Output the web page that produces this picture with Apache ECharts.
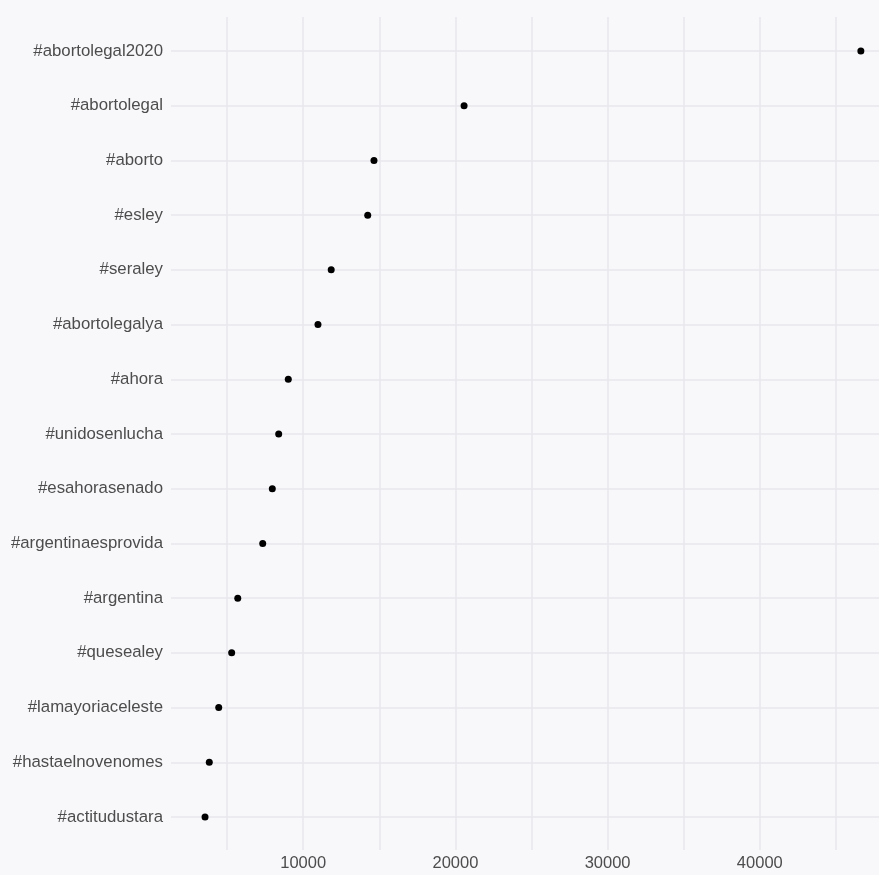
<!DOCTYPE html>
<html>
<head>
<meta charset="utf-8">
<script src="https://cdn.jsdelivr.net/npm/echarts@6/dist/echarts.min.js"></script>
<style>
html,body{margin:0;padding:0;background:#F8F7FA;}
#chart{width:879px;height:875px;}
</style>
</head>
<body>
<div id="chart"></div>
<script>
var hashtags = ["#abortolegal2020","#abortolegal","#aborto","#esley","#seraley","#abortolegalya","#ahora","#unidosenlucha","#esahorasenado","#argentinaesprovida","#argentina","#quesealey","#lamayoriaceleste","#hastaelnovenomes","#actitudustara"];
var counts = [46640,20570,14650,14240,11840,10970,9020,8390,7970,7340,5700,5300,4450,3830,3550];
var xTickValues = [10000,20000,30000,40000];

var bg = '#F8F7FA';
var gridColor = '#E9E7EC';
var textColor = '#4D4D4D';

var chart = echarts.init(document.getElementById('chart'), null, {renderer:'canvas'});
chart.setOption({
  backgroundColor: bg,
  animation: false,
  grid: [
    {left:171, right:0, top:51, bottom:58},
    {left:151, right:0, top:17, bottom:25}
  ],
  xAxis: [
    {gridIndex:0, type:'value', min:1314, max:47832, show:false},
    {gridIndex:1, type:'value', min:0, max:47832, interval:5000,
     axisLine:{show:false}, axisTick:{show:false},
     splitLine:{show:true, showMinLine:false, showMaxLine:false, lineStyle:{color:gridColor, width:1.5}},
     axisLabel:{color:textColor, fontSize:16.5, fontFamily:'Liberation Sans, Arial, sans-serif', margin:5,
       showMinLabel:false, showMaxLabel:false,
       formatter:function(v){ return xTickValues.indexOf(v) >= 0 ? String(v) : ''; }}}
  ],
  yAxis: [
    {gridIndex:0, type:'category', data:hashtags, inverse:true, boundaryGap:false,
     axisLine:{show:false}, axisTick:{show:false},
     splitLine:{show:true, lineStyle:{color:gridColor, width:1.5}},
     axisLabel:{color:textColor, fontSize:16.8, fontFamily:'Liberation Sans, Arial, sans-serif', margin:8}},
    {gridIndex:1, type:'value', min:0, max:1, show:false}
  ],
  series: [
    {type:'scatter', xAxisIndex:0, yAxisIndex:0, data:counts, symbol:'circle', symbolSize:7,
     itemStyle:{color:'#000000', opacity:1}, clip:false, z:5}
  ]
});
</script>
</body>
</html>
